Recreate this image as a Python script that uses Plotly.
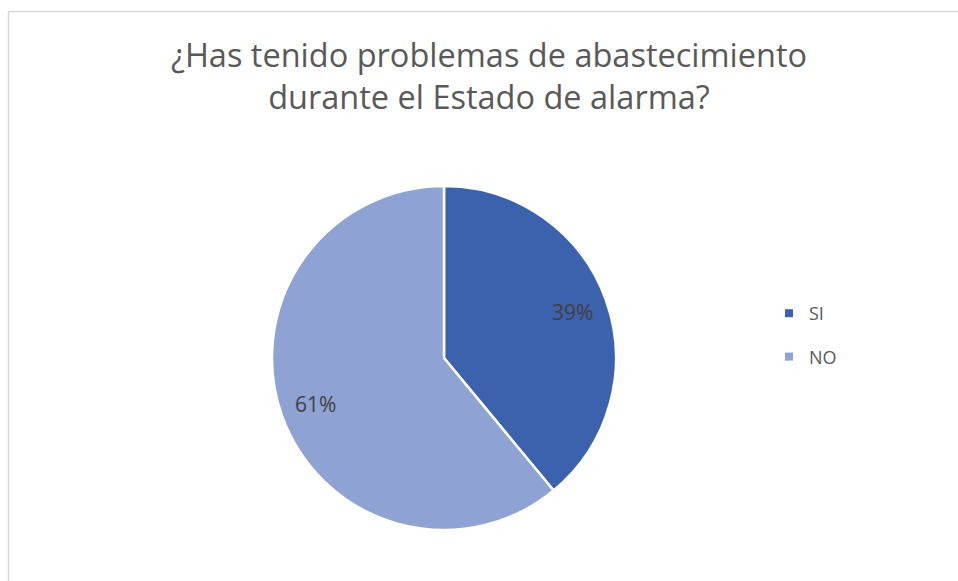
import math
import plotly.graph_objects as go

labels = ["SI", "NO"]
values = [39, 61]
colors = ["#3C62AE", "#8FA2D4"]
title_text = "¿Has tenido problemas de abastecimiento<br>durante el Estado de alarma?"

W, H = 958, 581
cx, cy, r = 444, 358, 172

fig = go.Figure()
fig.add_trace(go.Pie(
    labels=labels,
    values=values,
    sort=False,
    direction="clockwise",
    rotation=0,
    marker=dict(colors=colors, line=dict(color="white", width=2.5)),
    textinfo="none",
    hoverinfo="skip",
    showlegend=False,
    domain=dict(x=[(cx - r) / W, (cx + r) / W], y=[(H - cy - r) / H, (H - cy + r) / H]),
))

# legend entries (small square markers like the original)
for lab, col in zip(labels, colors):
    fig.add_trace(go.Scatter(
        x=[None], y=[None], mode="markers", name=lab, legendgroup=lab,
        marker=dict(symbol="square", size=8, color=col),
        hoverinfo="skip",
    ))

# percentage labels placed from the data (mid-angle of each slice)
total = sum(values)
annotations = []
cum = 0
for v in values:
    mid = (cum + v / 2) / total * 2 * math.pi
    cum += v
    rr = 0.8 * (r - 1)
    px = cx + rr * math.sin(mid)
    py = cy - rr * math.cos(mid)
    annotations.append(dict(
        x=px / W, y=1 - py / H, xref="paper", yref="paper",
        text=f"{round(v / total * 100)}%", showarrow=False,
        font=dict(family="Open Sans", size=21, color="#404040"),
        xanchor="center", yanchor="middle",
    ))

fig.update_layout(
    width=W, height=H,
    margin=dict(l=0, r=0, t=0, b=0),
    paper_bgcolor="white",
    plot_bgcolor="white",
    font=dict(family="Open Sans", color="#595959"),
    xaxis=dict(visible=False),
    yaxis=dict(visible=False),
    title=dict(text=title_text, x=489 / W, xanchor="center", y=1 - 67 / H, yanchor="top",
               font=dict(family="Open Sans", size=32.5, color="#595959")),
    legend=dict(x=769 / W, xanchor="left", y=1 - 295 / H, yanchor="top",
                font=dict(family="Open Sans", size=18, color="#595959"),
                tracegroupgap=17,
                bgcolor="rgba(0,0,0,0)"),
    annotations=annotations,
    shapes=[
        dict(type="line", xref="paper", yref="paper", x0=8.5 / W, x1=1, y0=1 - 11.5 / H, y1=1 - 11.5 / H,
             line=dict(color="#D9D9D9", width=1.5)),
        dict(type="line", xref="paper", yref="paper", x0=8.5 / W, x1=8.5 / W, y0=0, y1=1 - 11.5 / H,
             line=dict(color="#D9D9D9", width=1.5)),
    ],
)

fig.write_html("out.html", config={"displayModeBar": False},
               post_script="document.body.style.margin='0';")
